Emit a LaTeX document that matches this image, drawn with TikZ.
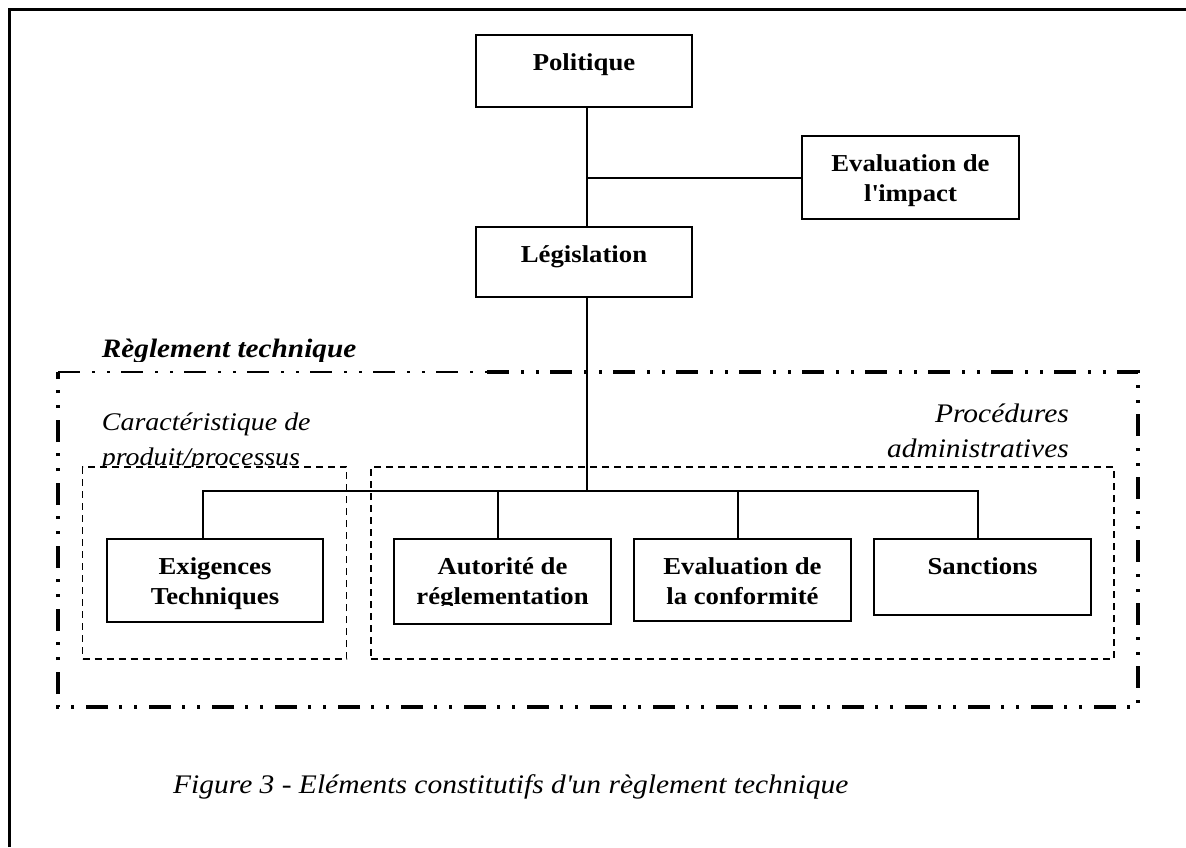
\documentclass[tikz,border=0pt]{standalone}
\usepackage{fontspec}
\setmainfont{Liberation Serif}[FakeStretch=1.1]
\begin{document}
\begin{tikzpicture}[x=1pt, y=-1pt,
  box/.style={draw, line width=2pt, minimum width=216pt, inner sep=0pt},
  boxtext/.style={anchor=north, inner sep=0pt, align=center,
    font=\fontsize{24.3}{30}\selectfont\bfseries},
  wire/.style={line width=2pt},
  grouplabel/.style={inner sep=0pt, font=\fontsize{26.8}{35}\selectfont\itshape},
  groupbox/.style={draw, line width=1.5pt, dash pattern=on 7pt off 5pt, inner sep=0pt},
  regline/.style={line width=3.5pt, line join=miter,
    dash pattern=on 22pt off 12pt on 3pt off 12pt on 3pt off 11pt},
]
\useasboundingbox (0,0) rectangle (1186,847);

% outer frame: only the top and left edges fall inside the page
\draw[line width=3pt] (9.5,847) -- (9.5,9.5) -- (1186,9.5);

% ---- policy chain ----
\coordinate (spine) at (587,0);
\node[box, minimum height=72pt] (pol) at (584,71) {};
\node[boxtext] (polT) at ([yshift=-15pt]pol.north) {\strut Politique};

\node[box, minimum height=70pt] (leg) at (584,262) {};
\node[boxtext] (legT) at ([yshift=-15pt]leg.north) {\strut Législation};

\node[box, minimum width=217pt, minimum height=83pt] (imp) at (910.5,177.5) {};
\node[boxtext] (impT) at ([yshift=-15pt]imp.north) {\strut Evaluation de\\l\textquotesingle impact};

\draw[wire] (pol.south -| spine) -- (leg.north -| spine);
\draw[wire] (imp.west) -- (imp.west -| spine);

% ---- technical regulation frame ----
\draw[regline] (487,372) -- (1138,372) -- (1138,707) -- (58,707) -- (58,372);
\draw[regline, line width=1.2pt] (58,372) -- (487,372);

\begin{scope}
  \clip (0,0) rectangle (1186,361.5);
  \node[grouplabel, font=\fontsize{26.6}{35}\selectfont\bfseries\itshape, anchor=base west]
    (regT) at (101.7,357) {Règlement technique};
\end{scope}

% sub-groups
\node[groupbox, minimum width=264pt, minimum height=192pt] (prodgrp) at (214.5,563) {};
\node[groupbox, minimum width=743pt, minimum height=192pt] (admgrp) at (742.5,563) {};

\begin{scope}
  \clip (0,0) rectangle (1186,466);
  \node[grouplabel, font=\fontsize{25.4}{35}\selectfont\itshape,
    anchor=north west, align=left] (prodT) at (101.7,405.5)
    {\strut Caractéristique de\\produit/processus};
\end{scope}
\node[grouplabel, anchor=north east, align=right] (admT) at (1069,397.5)
  {\strut Procédures\\administratives};

% ---- bottom row ----
\coordinate (bus) at (0,491);
\node[box, minimum height=83pt] (exig) at (215,580.5) {};
\node[boxtext] (exigT) at ([yshift=-15pt]exig.north) {\strut Exigences\\Techniques};

\node[box, minimum width=217pt, minimum height=85pt] (auto) at (502.5,581.5) {};
\begin{scope}
  \clip (380,530) rectangle (620,605.5);
  \node[boxtext] (autoT) at ([yshift=-15.5pt]auto.north) {\strut Autorité de\\réglementation};
\end{scope}

\node[box, minimum width=217pt, minimum height=82pt] (conf) at (742.5,580) {};
\node[boxtext] (confT) at ([yshift=-15pt]conf.north) {\strut Evaluation de\\la conformité};

\node[box, minimum width=217pt, minimum height=76pt] (sanc) at (982.5,577) {};
\node[boxtext] (sancT) at ([yshift=-15pt]sanc.north) {\strut Sanctions};

\draw[wire] (leg.south -| spine) -- (bus -| spine);
\draw[wire] ([xshift=-12pt]exig.north) |- ([xshift=-4.5pt]sanc.north |- bus)
  -- ([xshift=-4.5pt]sanc.north);
\draw[wire] ([xshift=-4.5pt]auto.north) -- ([xshift=-4.5pt]auto.north |- bus);
\draw[wire] ([xshift=-4.5pt]conf.north) -- ([xshift=-4.5pt]conf.north |- bus);

% caption
\node[grouplabel, anchor=base west] (cap) at (173,793)
  {Figure 3 - Eléments constitutifs d\textquotesingle un règlement technique};
\end{tikzpicture}
\end{document}
